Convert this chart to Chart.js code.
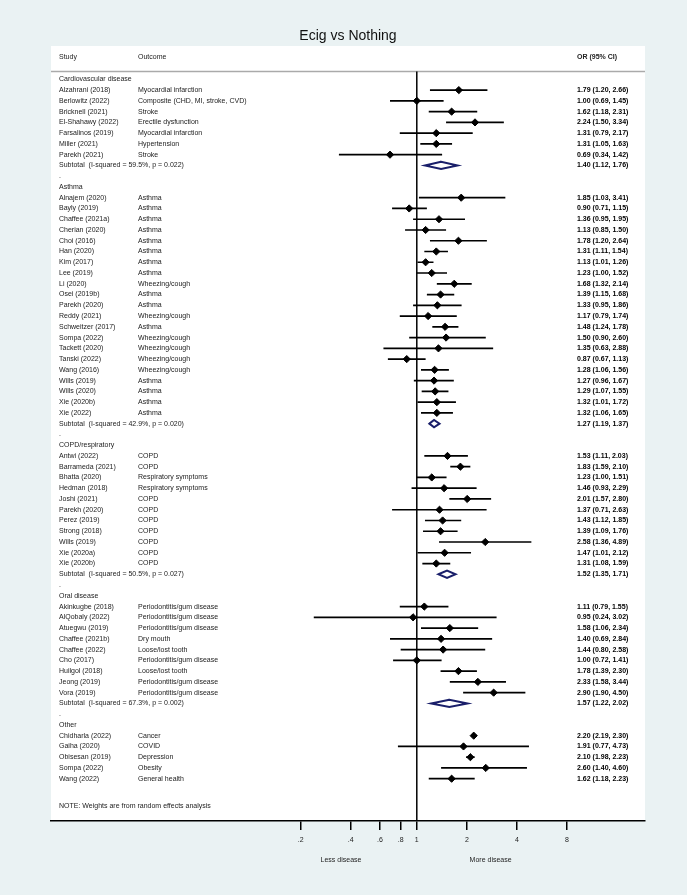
<!DOCTYPE html>
<html>
<head>
<meta charset="utf-8">
<title>Ecig vs Nothing</title>
<script src="https://cdn.jsdelivr.net/npm/chart.js@4.4.1/dist/chart.umd.min.js"></script>
<style>
  html, body { margin: 0; padding: 0; background: #eaf2f3; }
  #wrap { width: 687px; height: 895px; }
</style>
</head>
<body>
<div id="wrap"><canvas id="forest" width="687" height="895"></canvas></div>
<script>
'use strict';

// ── Dati ───────────────────────────────────────────────────────
const groups = ['Cardiovascular disease', 'Asthma', 'COPD/respiratory', 'Oral disease', 'Other'];
const groupSizes = [7, 21, 11, 9, 5];

const studies = [
  'Alzahrani (2018)', 'Berlowitz (2022)', 'Bricknell (2021)', 'El-Shahawy (2022)', 'Farsalinos (2019)', 'Miller (2021)', 'Parekh (2021)',
  'Alnajem (2020)', 'Bayly (2019)', 'Chaffee (2021a)', 'Cherian (2020)', 'Choi (2016)', 'Han (2020)', 'Kim (2017)', 'Lee (2019)',
  'Li (2020)', 'Osei (2019b)', 'Parekh (2020)', 'Reddy (2021)', 'Schweitzer (2017)', 'Sompa (2022)', 'Tackett (2020)',
  'Tanski (2022)', 'Wang (2016)', 'Wills (2019)', 'Wills (2020)', 'Xie (2020b)', 'Xie (2022)',
  'Antwi (2022)', 'Barrameda (2021)', 'Bhatta (2020)', 'Hedman (2018)', 'Joshi (2021)', 'Parekh (2020)', 'Perez (2019)',
  'Strong (2018)', 'Wills (2019)', 'Xie (2020a)', 'Xie (2020b)',
  'Akinkugbe (2018)', 'AlQobaly (2022)', 'Atuegwu (2019)', 'Chaffee (2021b)', 'Chaffee (2022)', 'Cho (2017)',
  'Huilgol (2018)', 'Jeong (2019)', 'Vora (2019)',
  'Chidharla (2022)', 'Gaiha (2020)', 'Obisesan (2019)', 'Sompa (2022)', 'Wang (2022)'
];

const outcomes = [
  'Myocardial infarction', 'Composite (CHD, MI, stroke, CVD)', 'Stroke', 'Erectile dysfunction', 'Myocardial infarction', 'Hypertension', 'Stroke',
  'Asthma', 'Asthma', 'Asthma', 'Asthma', 'Asthma', 'Asthma', 'Asthma', 'Asthma',
  'Wheezing/cough', 'Asthma', 'Asthma', 'Wheezing/cough', 'Asthma', 'Wheezing/cough', 'Wheezing/cough',
  'Wheezing/cough', 'Wheezing/cough', 'Asthma', 'Asthma', 'Asthma', 'Asthma',
  'COPD', 'COPD', 'Respiratory symptoms', 'Respiratory symptoms', 'COPD', 'COPD', 'COPD',
  'COPD', 'COPD', 'COPD', 'COPD',
  'Periodontitis/gum disease', 'Periodontitis/gum disease', 'Periodontitis/gum disease', 'Dry mouth', 'Loose/lost tooth', 'Periodontitis/gum disease',
  'Loose/lost tooth', 'Periodontitis/gum disease', 'Periodontitis/gum disease',
  'Cancer', 'COVID', 'Depression', 'Obesity', 'General health'
];

const orEst = [
  1.79, 1.00, 1.62, 2.24, 1.31, 1.31, 0.69,
  1.85, 0.90, 1.36, 1.13, 1.78, 1.31, 1.13, 1.23, 1.68, 1.39, 1.33, 1.17, 1.48, 1.50, 1.35, 0.87, 1.28, 1.27, 1.29, 1.32, 1.32,
  1.53, 1.83, 1.23, 1.46, 2.01, 1.37, 1.43, 1.39, 2.58, 1.47, 1.31,
  1.11, 0.95, 1.58, 1.40, 1.44, 1.00, 1.78, 2.33, 2.90,
  2.20, 1.91, 2.10, 2.60, 1.62
];
const orLo = [
  1.20, 0.69, 1.18, 1.50, 0.79, 1.05, 0.34,
  1.03, 0.71, 0.95, 0.85, 1.20, 1.11, 1.01, 1.00, 1.32, 1.15, 0.95, 0.79, 1.24, 0.90, 0.63, 0.67, 1.06, 0.96, 1.07, 1.01, 1.06,
  1.11, 1.59, 1.00, 0.93, 1.57, 0.71, 1.12, 1.09, 1.36, 1.01, 1.08,
  0.79, 0.24, 1.06, 0.69, 0.80, 0.72, 1.39, 1.58, 1.90,
  2.19, 0.77, 1.98, 1.40, 1.18
];
const orHi = [
  2.66, 1.45, 2.31, 3.34, 2.17, 1.63, 1.42,
  3.41, 1.15, 1.95, 1.50, 2.64, 1.54, 1.26, 1.52, 2.14, 1.68, 1.86, 1.74, 1.78, 2.60, 2.88, 1.13, 1.56, 1.67, 1.55, 1.72, 1.65,
  2.03, 2.10, 1.51, 2.29, 2.80, 2.63, 1.85, 1.76, 4.89, 2.12, 1.59,
  1.55, 3.02, 2.34, 2.84, 2.58, 1.41, 2.30, 3.44, 4.50,
  2.30, 4.73, 2.23, 4.60, 2.23
];

// subtotali (random effects) per gruppo, 'Other' non ne ha
const subI2 = [59.5, 42.9, 50.5, 67.3];
const subP = [0.022, 0.020, 0.027, 0.002];
const subEst = [1.40, 1.27, 1.52, 1.57];
const subLo = [1.12, 1.19, 1.35, 1.22];
const subHi = [1.76, 1.37, 1.71, 2.02];

const tickValues = [0.2, 0.4, 0.6, 0.8, 1, 2, 4, 8];
const tickLabels = ['.2', '.4', '.6', '.8', '1', '2', '4', '8'];
const sideLabels = ['Less disease', 'More disease'];
const sideLabelAt = [0.35, 2.78];

// ── Layout / stile ─────────────────────────────────────────────
const FONT = "'Liberation Sans', Arial, sans-serif";
const TXT = '#222';
const NAVY = '#1a1f6a';
const DH = 0.34;          // mezza altezza del rombo del subtotale (in righe)
const HEADER_ROW = -2.07;
const RULE_ROW = -0.72;

function fmtOR(e, l, h) {
  return `${e.toFixed(2)} (${l.toFixed(2)}, ${h.toFixed(2)})`;
}

// ── Righe ──────────────────────────────────────────────────────
const textRows = [];
const ciPts = [], markPts = [], diamPts = [];
let row = 0, k = 0;

groups.forEach((g, gi) => {
  textRows.push({ row: row++, study: g });
  for (let j = 0; j < groupSizes[gi]; j++, k++) {
    textRows.push({ row, study: studies[k], outcome: outcomes[k], or: fmtOR(orEst[k], orLo[k], orHi[k]) });
    ciPts.push({ x: orLo[k], y: row }, { x: orHi[k], y: row }, { x: orHi[k], y: null });
    markPts.push({ x: orEst[k], y: row });
    row++;
  }
  if (gi < subEst.length) {
    textRows.push({
      row,
      study: `Subtotal  (I-squared = ${subI2[gi].toFixed(1)}%, p = ${subP[gi].toFixed(3)})`,
      or: fmtOR(subEst[gi], subLo[gi], subHi[gi])
    });
    diamPts.push(
      { x: subLo[gi], y: row }, { x: subEst[gi], y: row - DH }, { x: subHi[gi], y: row },
      { x: subEst[gi], y: row + DH }, { x: subLo[gi], y: row }, { x: subEst[gi], y: row - DH },
      { x: subEst[gi], y: null }
    );
    row++;
  }
  if (gi < groups.length - 1) textRows.push({ row: row++, study: '.' });
});
const noteRow = row + 1.5;

// ── Plugin ─────────────────────────────────────────────────────
const panelPlugin = {
  id: 'panel',
  beforeDraw(chart) {
    const { ctx, chartArea: a } = chart;
    ctx.save();
    ctx.fillStyle = '#fff';
    ctx.fillRect(a.left, a.top, a.right - a.left, a.bottom - a.top);
    ctx.restore();
  },
  beforeDatasetsDraw(chart) {
    const { ctx, chartArea: a, scales: { x, y } } = chart;
    const yr = y.getPixelForValue(RULE_ROW);
    ctx.save();
    ctx.strokeStyle = '#aaaaaa';
    ctx.lineWidth = 1.5;
    ctx.beginPath();
    ctx.moveTo(a.left, yr);
    ctx.lineTo(a.right, yr);
    ctx.stroke();
    const x1 = x.getPixelForValue(1);
    ctx.strokeStyle = '#000';
    ctx.lineWidth = 1.5;
    ctx.beginPath();
    ctx.moveTo(x1, yr);
    ctx.lineTo(x1, a.bottom);
    ctx.stroke();
    ctx.restore();
  }
};

const textPlugin = {
  id: 'forestText',
  afterDraw(chart) {
    const { ctx, chartArea: a, scales: { x, y } } = chart;
    const xStudy = a.left + 8, xOutcome = a.left + 87, xOR = a.left + 526;
    const regular = `7px ${FONT}`, heavy = `bold 7px ${FONT}`;
    ctx.save();
    ctx.font = regular;
    ctx.fillStyle = TXT;
    ctx.textBaseline = 'middle';
    ctx.textAlign = 'left';

    const yh = y.getPixelForValue(HEADER_ROW);
    ctx.fillText('Study', xStudy, yh);
    ctx.fillText('Outcome', xOutcome, yh);
    ctx.font = heavy;
    ctx.fillText('OR (95% CI)', xOR, yh);

    textRows.forEach(r => {
      const yy = y.getPixelForValue(r.row);
      ctx.font = regular;
      ctx.fillStyle = TXT;
      ctx.fillText(r.study, xStudy, yy);
      if (r.outcome) ctx.fillText(r.outcome, xOutcome, yy);
      if (r.or) {
        ctx.font = heavy;
        ctx.fillStyle = '#000';
        ctx.fillText(r.or, xOR, yy);
      }
    });

    ctx.font = regular;
    ctx.fillStyle = TXT;
    ctx.fillText('NOTE: Weights are from random effects analysis', xStudy, y.getPixelForValue(noteRow));

    ctx.textAlign = 'center';
    sideLabels.forEach((s, i) => {
      ctx.fillText(s, x.getPixelForValue(sideLabelAt[i]), a.bottom + 39);
    });
    ctx.restore();
  }
};

// ── Grafico ────────────────────────────────────────────────────
const forestChart = new Chart(document.getElementById('forest').getContext('2d'), {
  type: 'scatter',
  data: {
    datasets: [
      {
        label: 'OR',
        data: markPts,
        pointStyle: 'rectRot',
        pointRadius: 3.6,
        pointHoverRadius: 3.6,
        backgroundColor: '#000',
        borderColor: '#000',
        borderWidth: 1,
        order: 0
      },
      {
        label: 'CI',
        type: 'line',
        data: ciPts,
        borderColor: '#000',
        borderWidth: 1.7,
        pointRadius: 0,
        spanGaps: false,
        tension: 0,
        fill: false,
        order: 1
      },
      {
        label: 'Subtotal',
        type: 'line',
        data: diamPts,
        borderColor: NAVY,
        borderWidth: 2,
        borderJoinStyle: 'miter',
        pointRadius: 0,
        spanGaps: false,
        tension: 0,
        fill: false,
        order: 2
      }
    ]
  },
  options: {
    responsive: false,
    animation: false,
    devicePixelRatio: 1,
    layout: { padding: { left: 51, right: 42, top: 0, bottom: 0 } },
    plugins: {
      legend: { display: false },
      tooltip: { enabled: false },
      title: {
        display: true,
        text: 'Ecig vs Nothing',
        color: '#111',
        font: { family: FONT, size: 14, weight: 'normal' },
        padding: { top: 27.5, bottom: 1.7 }
      }
    },
    scales: {
      x: {
        type: 'logarithmic',
        min: 0.0063,
        max: 23.6,
        afterBuildTicks: (scale) => { scale.ticks = tickValues.map(v => ({ value: v })); },
        afterFit: (scale) => { scale.height = 74; },
        border: { display: true, color: '#000', width: 1.5 },
        grid: { display: true, drawOnChartArea: false, drawTicks: true, tickLength: 9, color: '#000', lineWidth: 1.5 },
        ticks: {
          autoSkip: false,
          maxRotation: 0,
          color: TXT,
          padding: 6,
          font: { family: FONT, size: 7 },
          callback: (v, i) => tickLabels[i]
        }
      },
      y: {
        type: 'linear',
        display: false,
        reverse: true,
        min: -3.1,
        max: 68.93
      }
    }
  },
  plugins: [panelPlugin, textPlugin]
});
</script>
</body>
</html>
